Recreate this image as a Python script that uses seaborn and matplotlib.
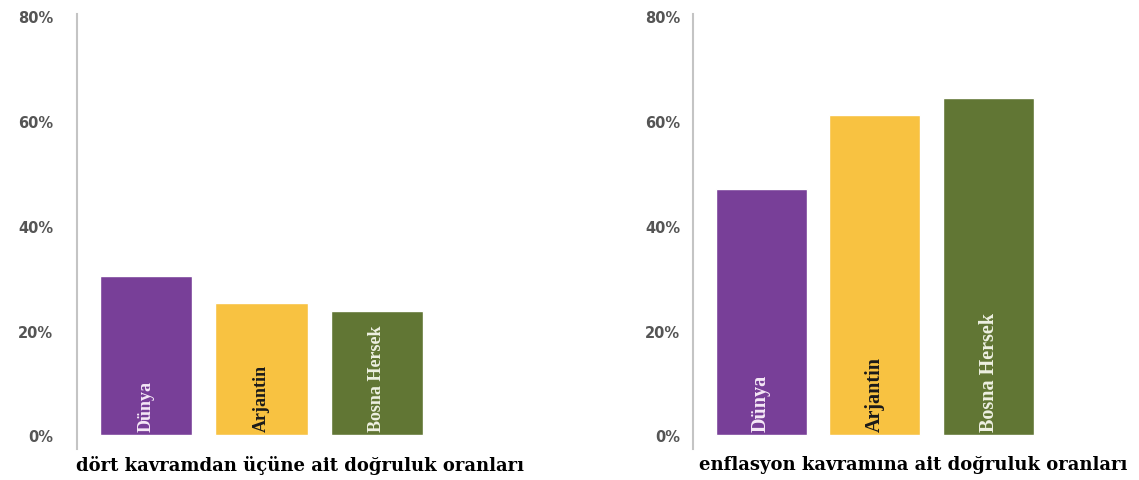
import matplotlib
matplotlib.use("Agg")
import matplotlib.pyplot as plt
import seaborn as sns
import pandas as pd

# data
countries = ["Dünya", "Arjantin", "Bosna Hersek"]
left_values = [30.5, 25.3, 23.8]
right_values = [47.0, 61.2, 64.4]
left_title = "dört kavramdan üçüne ait doğruluk oranları"
right_title = "enflasyon kavramına ait doğruluk oranları"
yticks = [0, 20, 40, 60, 80]
ytick_labels = ["0%", "20%", "40%", "60%", "80%"]

colors = ["#783f98", "#f8c241", "#617634"]
text_colors = ["#f5e8f7", "#1a1a1a", "#eef0e2"]

sns.set_style("white")

fig = plt.figure(figsize=(11.39, 4.81), dpi=100)
ax1 = fig.add_axes([0.0676, 0.0644, 0.3916, 0.9044])
ax2 = fig.add_axes([0.6084, 0.0644, 0.3863, 0.9044])


def draw(ax, values, title, pad, label_size):
    df = pd.DataFrame({"country": countries, "value": values})
    sns.barplot(data=df, x="country", y="value", hue="country",
                palette=colors, legend=False, width=0.8, saturation=1,
                ax=ax)
    ax.set_ylim(-2.6, 80.4)
    ax.set_xlim(-0.6, 3.27)
    ax.set_yticks(yticks)
    ax.set_yticklabels(ytick_labels, fontsize=10.5, fontweight="bold",
                       color="#555555")
    ax.tick_params(axis="y", length=0, pad=pad)
    ax.set_xticks([])
    ax.set_ylabel("")
    ax.set_xlabel(title, family="DejaVu Serif", fontweight="bold",
                  fontsize=13, color="black", labelpad=4)
    for s in ["top", "right", "bottom"]:
        ax.spines[s].set_visible(False)
    ax.spines["left"].set_color("#c4c4c4")
    ax.spines["left"].set_linewidth(1.5)
    for i, name in enumerate(countries):
        ax.text(i, 0.8, name, rotation=90, ha="center", va="bottom",
                family="Liberation Serif", fontweight="bold",
                fontsize=label_size, color=text_colors[i])


draw(ax1, left_values, left_title, 17, 13)
draw(ax2, right_values, right_title, 9, 14.5)

fig.savefig("out.png", dpi=100, facecolor="white")
